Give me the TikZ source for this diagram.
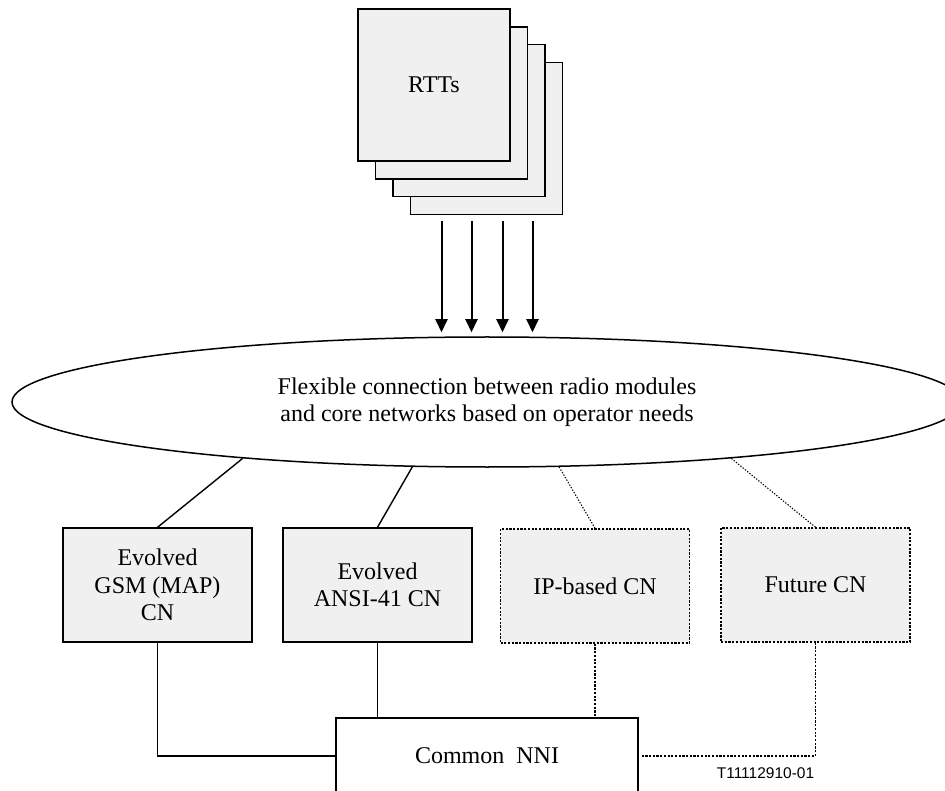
\documentclass[tikz,border=0pt]{standalone}
\usepackage{fontspec}
\setmainfont{Liberation Serif}
\newfontfamily\tagfont{Liberation Sans}
\usetikzlibrary{shapes.geometric,arrows.meta,calc}
\definecolor{boxgray}{HTML}{F0F0F0}

\begin{document}
\begin{tikzpicture}[x=1pt,y=-1pt,
  base/.style={draw, line width=1.4pt, inner sep=0pt, align=center,
    font=\fontsize{24}{27.5}\selectfont},
  cnbox/.style={base, fill=boxgray, minimum width=189pt, minimum height=114pt},
  plannedbox/.style={cnbox, line width=1.5pt, dash pattern=on 2.2pt off 1.5pt},
  rtt/.style={base, fill=boxgray, minimum width=152pt, minimum height=152pt},
  link/.style={line width=1.4pt},
  optlink/.style={line width=1.1pt, dash pattern=on 1.3pt off 1.6pt},
  optfeed/.style={line width=1.5pt, dash pattern=on 2.2pt off 1.5pt},
  feed/.style={line width=2pt, -{Triangle[length=13pt,width=12pt]},
    shorten <=6pt, shorten >=4pt}
]
\useasboundingbox (0,0) rectangle (945,791);

% stacked radio transmission technologies, back to front
\node[rtt] (r4) at (486.5,138.5) {};
\node[rtt] (r3) at (468.8,120.8) {};
\node[rtt] (r2) at (451.2,103.2) {};
\node[rtt] (r1) at (434,85) {RTTs};

% flexible interconnection
\node[ellipse, draw, line width=1.5pt, fill=white, minimum width=950pt,
  minimum height=130pt, inner sep=0pt, align=center,
  font=\fontsize{24}{27.5}\selectfont] (ell) at (487,402)
  {Flexible connection between radio modules\\and core networks based on operator needs};

% feeds from the RTTs
\foreach \dx in {-45,-15,16,46}
  \draw[feed] ([xshift=\dx pt]r4.south) -- ([xshift=\dx pt]r4.south |- ell.north);

% core networks
\node[cnbox] (gsm) at (157.5,585) {Evolved\\GSM (MAP)\\CN};
\node[cnbox] (ansi) at (377.5,585) {Evolved\\ANSI-41 CN};
\node[plannedbox] (ip) at (595,586) {IP-based CN};
\node[plannedbox] (fut) at (815.5,585) {Future CN};

% common network-network interface
\node[base, fill=white, minimum width=302pt, minimum height=76pt]
  (nni) at (487,756) {Common~~NNI};

\node[font=\tagfont\fontsize{15.5}{18}\selectfont, inner sep=0pt]
  (tag) at (765.5,773) {T11112910-01};

% links to the interconnection
\draw[link] (gsm.north) -- (ell.193);
\draw[link] (ansi.north) -- (ell.221.5);
\draw[optlink] (ip.north) -- (ell.318.5);
\draw[optlink] (fut.north) -- (ell.347);

% links to the NNI
\draw[link] (gsm.south) |- (nni.west);
\draw[link] (ansi.south) -- (ansi.south |- nni.north);
\draw[optfeed] (ip.south) -- (ip.south |- nni.north);
\draw[optfeed] (fut.south) |- ([xshift=3pt]nni.east);
\end{tikzpicture}
\end{document}
